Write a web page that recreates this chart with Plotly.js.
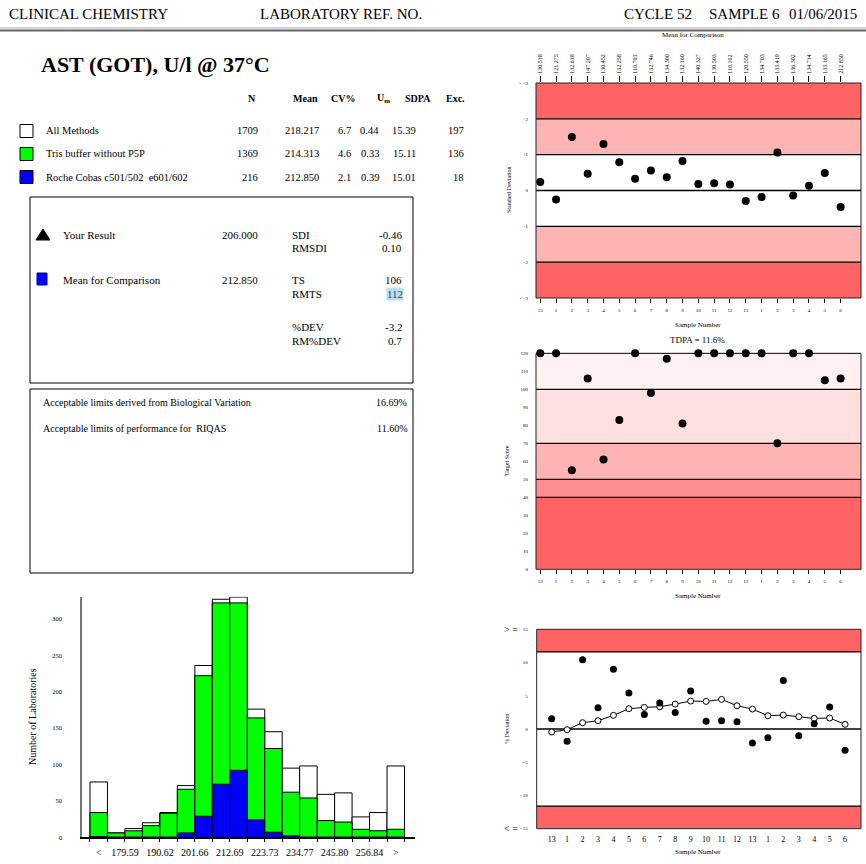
<!DOCTYPE html>
<html><head><meta charset="utf-8">
<script src="https://cdn.plot.ly/plotly-3.0.1.min.js"></script>
<style>html,body{margin:0;padding:0;background:#fff}#chart{width:866px;height:864px}</style>
</head><body><div id="chart"></div>
<script>
// ---------------- data ----------------
const sampleLabels = ["13","1","2","3","4","5","6","7","8","9","10","11","12","13","1","2","3","4","5","6"];
const meanForComparison = ["130.518","121.275","132.618","147.207","130.452","132.258","110.703","132.746","134.300","132.160","140.327","130.503","110.102","120.550","134.703","133.419","136.302","134.714","133.165","212.850"];
const sdiValues = [0.24,-0.25,1.49,0.47,1.30,0.79,0.33,0.56,0.37,0.82,0.18,0.20,0.17,-0.29,-0.18,1.06,-0.14,0.13,0.49,-0.46];
const targetScores = [120,120,55,106,61,83,120,98,117,81,120,120,120,120,120,70,120,120,105,106];
const pctDeviation = [1.55,-1.85,10.4,3.2,9.0,5.4,2.2,3.9,2.5,5.7,1.15,1.25,1.1,-2.1,-1.3,7.3,-1.0,0.8,3.3,-3.2];
const runningMeanPctDev = [-0.45,-0.1,0.95,1.25,2.05,3.05,3.25,3.35,3.75,4.2,4.15,4.45,3.5,3.0,2.0,2.1,1.85,1.6,1.65,0.7];
const sdiTickVals = [-3,-2,-1,0,1,2,3];
const sdiTickText = ["< -3","-2","-1","0","+1","+2","> +3"];
const tsTickVals = [0,10,20,30,40,50,60,70,80,90,100,110,120];
const devTickVals = [-15,-10,-5,0,5,10,15];
const tdpa = 11.6;

const histAll   = [76,6,12,20,34,71,236,327,330,176,145,95,98,59,61,28,34,98];
const histTris  = [34,6,9,16,33,66,222,322,322,164,122,62,54,23,21,11,9,11];
const histRoche = [1,0,0,0,0,6,29,73,92,24,7,2,0,0,0,0,0,0];
const histTickLabels = ["179.59","190.62","201.66","212.69","223.73","234.77","245.80","256.84"];
const histEndLabels = ["<",">"];
const histYTicks = [0,50,100,150,200,250,300];

const tableHeaders = ["N","Mean","CV%","U<sub>m</sub>","SDPA","Exc."];
const methodNames = ["All Methods","Tris buffer without P5P","Roche Cobas c501/502  e601/602"];
const methodColors = ["#ffffff","#00ff00","#0000ff"];
const methodN = ["1709","1369","216"];
const methodMean = ["218.217","214.313","212.850"];
const methodCV = ["6.7","4.6","2.1"];
const methodUm = ["0.44","0.33","0.39"];
const methodSDPA = ["15.39","15.11","15.01"];
const methodExc = ["197","136","18"];

// ---------------- helpers ----------------
const W = 866, H = 864;
const px = x => x / W, py = y => 1 - y / H;
const dx = (a, b) => [a / W, b / W];
const dy = (top, bot) => [1 - bot / H, 1 - top / H];
const SERIF = "Liberation Serif, Times New Roman, serif";
const idx = sampleLabels.map((_, i) => i);
const hIdx = histAll.map((_, i) => i);

const annotations = [];
function txt(text, x, y, opts = {}) {
  annotations.push(Object.assign({
    text, x: px(x), y: py(y), xref: "paper", yref: "paper",
    xanchor: opts.xa || "left", yanchor: "middle", showarrow: false,
    font: { family: SERIF, size: opts.size || 11, color: opts.color || "#000" },
    textangle: opts.angle || 0
  }, opts.extra || {}));
}
const shapes = [];
function rectPx(x0, y0, x1, y1, fill, line) {
  shapes.push({ type: "rect", xref: "paper", yref: "paper", x0: px(x0), x1: px(x1), y0: py(y1), y1: py(y0),
    fillcolor: fill, line: { color: line || "#000", width: 1 } });
}

// ---------------- header & left panel ----------------
txt("CLINICAL CHEMISTRY", 7, 14, { size: 15 });
txt("LABORATORY REF. NO.", 258, 14, { size: 15 });
txt("CYCLE 52", 622, 14, { size: 15 });
txt("SAMPLE 6", 707, 14, { size: 15 });
txt("01/06/2015", 859, 14, { size: 15, xa: "right" });
shapes.push({ type: "line", xref: "paper", yref: "paper", x0: 0, x1: 1, y0: py(28), y1: py(28), line: { color: "#aaa", width: 1 } });
shapes.push({ type: "line", xref: "paper", yref: "paper", x0: 0, x1: 1, y0: py(30.5), y1: py(30.5), line: { color: "#666", width: 2 } });

txt("<b>AST (GOT), U/l @ 37°C</b>", 39, 64, { size: 22 });

const headRight = [258, 320, 357, 392, 433, 467];
tableHeaders.forEach((h, i) => txt("<b>" + h + "</b>", headRight[i], 98, { size: 10, xa: "right" }));
const colRight = [260, 321, 353, 381, 418, 466];
const rowY = [131, 154, 177];
methodNames.forEach((m, r) => {
  rectPx(20, rowY[r] - 6.5, 33, rowY[r] + 6.5, methodColors[r]);
  txt(m, 44, rowY[r], { size: 10.5 });
  [methodN, methodMean, methodCV, methodUm, methodSDPA, methodExc].forEach((col, c) =>
    txt(col[r], colRight[c], rowY[r], { size: 10.5, xa: "right" }));
});

rectPx(30, 197, 413, 383, "rgba(0,0,0,0)");
rectPx(30, 389, 413, 573, "rgba(0,0,0,0)");
shapes.push({ type: "path", xref: "paper", yref: "paper",
  path: `M ${px(36)} ${py(240)} L ${px(50)} ${py(240)} L ${px(43)} ${py(229)} Z`, fillcolor: "#000", line: { color: "#000", width: 1 } });
txt("Your Result", 61, 235);
txt("206.000", 260, 235, { xa: "right" });
txt("SDI", 290, 235); txt("-0.46", 404, 235, { xa: "right" });
txt("RMSDI", 290, 248); txt("0.10", 404, 248, { xa: "right" });
rectPx(37, 273, 47, 285, "#0000ff", "#0000aa");
txt("Mean for Comparison", 61, 280);
txt("212.850", 260, 280, { xa: "right" });
txt("TS", 290, 280); txt("106", 404, 280, { xa: "right" });
txt("RMTS", 290, 294);
txt("112", 404, 294, { xa: "right", color: "#445", extra: { bgcolor: "#b9dff0", borderpad: 0 } });
txt("%DEV", 290, 327); txt("-3.2", 404, 327, { xa: "right" });
txt("RM%DEV", 290, 341); txt("0.7", 404, 341, { xa: "right" });
txt("Acceptable limits derived from Biological Variation", 41, 403, { size: 10 });
txt("16.69%", 409, 403, { size: 10, xa: "right" });
txt("Acceptable limits of performance for  RIQAS", 41, 428, { size: 10 });
txt("11.60%", 409, 428, { size: 10, xa: "right" });

// ---------------- right charts: bands & lines ----------------
function band(xr, yr, y0, y1, color) {
  shapes.push({ type: "rect", xref: xr + " domain", yref: yr, x0: 0, x1: 1, y0, y1, fillcolor: color, line: { width: 0 }, layer: "below" });
}
function hline(xr, yr, y, w) {
  shapes.push({ type: "line", xref: xr + " domain", yref: yr, x0: 0, x1: 1, y0: y, y1: y, line: { color: "#000", width: w || 1.3 }, layer: "below" });
}
function border(xr, yr) {
  shapes.push({ type: "rect", xref: xr + " domain", yref: yr + " domain", x0: 0, x1: 1, y0: 0, y1: 1, line: { color: "#222", width: 1 }, fillcolor: "rgba(0,0,0,0)", layer: "below" });
}
const DARK = "#ff6464", LIGHT = "#ffb4b4";
// chart 1 (SDI)
band("x2", "y2", 2, 3, DARK); band("x2", "y2", 1, 2, LIGHT); band("x2", "y2", -2, -1, LIGHT); band("x2", "y2", -3, -2, DARK);
[2, 1, 0, -1, -2].forEach(v => hline("x2", "y2", v));
border("x2", "y2");
// chart 2 (Target score)
band("x3", "y3", 100, 120, "#fff1f1"); band("x3", "y3", 70, 100, "#ffe0e0"); band("x3", "y3", 50, 70, LIGHT);
band("x3", "y3", 40, 50, "#ff8e8e"); band("x3", "y3", 0, 40, DARK);
[120, 100, 70, 50, 40].forEach(v => hline("x3", "y3", v));
border("x3", "y3");
// chart 3 (% deviation)
band("x4", "y4", tdpa, 15, DARK); band("x4", "y4", -15, -tdpa, DARK);
[tdpa, 0, -tdpa].forEach(v => hline("x4", "y4", v));
border("x4", "y4");

// chart text
txt("Mean for Comparison", 693, 35, { size: 7, xa: "center" });
txt("Standard Deviation", 509, 190, { size: 6, xa: "center", angle: -90 });
txt("Sample Number", 698, 325, { size: 7, xa: "center" });
txt("TDPA = 11.6%", 697, 340, { size: 9, xa: "center" });
txt("Target Score", 507, 461, { size: 6, xa: "center", angle: -90 });
txt("Sample Number", 698, 596, { size: 7, xa: "center" });
txt("% Deviation", 507, 729, { size: 6, xa: "center", angle: -90 });
txt("Sample Number", 698, 852, { size: 7, xa: "center" });
txt("&gt; =", 511, 629, { size: 10, xa: "center" });
txt("&lt; =", 511, 828, { size: 10, xa: "center" });
txt("Number of Laboratories", 32, 717, { size: 10, xa: "center", angle: -90 });

// ---------------- traces ----------------
const dot = (size) => ({ color: "#000", size, line: { width: 0 } });
const histLabelPos = [0].concat(histTickLabels.map((_, i) => 2 * i + 1.5), [hIdx.length - 1]);
const histLabelText = [histEndLabels[0]].concat(histTickLabels, [histEndLabels[1]]);
const histBoundaries = hIdx.map(i => i - 0.5).concat([hIdx.length - 0.5]);
const traces = [
  // histogram (overlaid bars)
  { type: "bar", x: hIdx, y: histAll, width: 1, marker: { color: "#ffffff", line: { color: "#000", width: 1 } }, xaxis: "x", yaxis: "y", hoverinfo: "skip" },
  { type: "bar", x: hIdx, y: histTris, width: 1, marker: { color: "#00ff00", line: { color: "#000", width: 1 } }, xaxis: "x", yaxis: "y", hoverinfo: "skip" },
  { type: "bar", x: hIdx, y: histRoche, width: 1, marker: { color: "#0000ff", line: { color: "#000", width: 1 } }, xaxis: "x", yaxis: "y", hoverinfo: "skip" },
  { type: "scatter", mode: "markers", x: [0, hIdx.length - 1], y: [0, 0], marker: { opacity: 0 }, xaxis: "x5", yaxis: "y", hoverinfo: "skip" },
  // SDI chart
  { type: "scatter", mode: "markers", x: idx, y: sdiValues, marker: dot(8), xaxis: "x2", yaxis: "y2", cliponaxis: false },
  { type: "scatter", mode: "markers", x: idx, y: idx.map(() => 0), marker: { opacity: 0 }, xaxis: "x6", yaxis: "y2", hoverinfo: "skip" },
  // Target score chart
  { type: "scatter", mode: "markers", x: idx, y: targetScores, marker: dot(8), xaxis: "x3", yaxis: "y3", cliponaxis: false },
  // % deviation chart
  { type: "scatter", mode: "lines+markers", x: idx, y: runningMeanPctDev, line: { color: "#000", width: 1 },
    marker: { color: "#fff", size: 6, line: { color: "#000", width: 1 } }, xaxis: "x4", yaxis: "y4" },
  { type: "scatter", mode: "markers", x: idx, y: pctDeviation, marker: dot(7), xaxis: "x4", yaxis: "y4" }
];

// ---------------- axes ----------------
const base = { showgrid: false, zeroline: false, fixedrange: true, tickfont: { family: SERIF, size: 5, color: "#000" } };
const xr12 = [-0.27, 20.29];
const hxr = [-0.94, 18.1];

const layout = {
  width: W, height: H, margin: { l: 0, r: 0, t: 0, b: 0 }, paper_bgcolor: "#fff", plot_bgcolor: "rgba(0,0,0,0)",
  showlegend: false, barmode: "overlay", bargap: 0,
  font: { family: SERIF, color: "#000" },
  xaxis: Object.assign({}, base, { domain: dx(82.3, 415), range: hxr, anchor: "y",
    showline: true, linecolor: "#000", linewidth: 1.3, tickmode: "array", tickvals: histBoundaries,
    showticklabels: false, ticks: "outside", ticklen: 3, tickcolor: "#000" }),
  xaxis5: Object.assign({}, base, { overlaying: "x", anchor: "y", range: hxr, tickmode: "array",
    tickvals: histLabelPos, ticktext: histLabelText, ticks: "", showline: false,
    tickfont: { family: SERIF, size: 10, color: "#000" }, ticklabelstandoff: 8 }),
  yaxis: Object.assign({}, base, { domain: dy(596.7, 837.3), range: [0, 330.5], anchor: "x",
    showline: true, linecolor: "#777", linewidth: 2, tickmode: "array", tickvals: histYTicks, ticks: "",
    tickfont: { family: SERIF, size: 6.5, color: "#000" }, ticklabelstandoff: 17 }),

  xaxis2: Object.assign({}, base, { domain: dx(536, 861), range: xr12, anchor: "y2", tickmode: "array",
    tickvals: idx, ticktext: sampleLabels, ticks: "outside", ticklen: 4, tickcolor: "#000", ticklabelstandoff: 3 }),
  xaxis6: Object.assign({}, base, { overlaying: "x2", anchor: "y2", side: "top", range: xr12, tickmode: "array",
    tickvals: idx, ticktext: meanForComparison, tickangle: -90, ticks: "outside", ticklen: 6, tickcolor: "#000",
    tickfont: { family: SERIF, size: 6, color: "#000" }, ticklabelstandoff: 1 }),
  yaxis2: Object.assign({}, base, { domain: dy(83, 298), range: [-3, 3], anchor: "x2", tickmode: "array",
    tickvals: sdiTickVals, ticktext: sdiTickText, ticks: "", ticklabelstandoff: 7 }),

  xaxis3: Object.assign({}, base, { domain: dx(536, 861), range: xr12, anchor: "y3", tickmode: "array",
    tickvals: idx, ticktext: sampleLabels, ticks: "outside", ticklen: 4, tickcolor: "#000", ticklabelstandoff: 3 }),
  yaxis3: Object.assign({}, base, { domain: dy(353.3, 569.3), range: [0, 120], anchor: "x3", tickmode: "array",
    tickvals: tsTickVals, ticks: "", ticklabelstandoff: 7 }),

  xaxis4: Object.assign({}, base, { domain: dx(536.7, 861), range: [-0.97, 20.03], anchor: "y4", tickmode: "array",
    tickvals: idx, ticktext: sampleLabels, ticks: "", tickfont: { family: SERIF, size: 8, color: "#000" }, ticklabelstandoff: 4 }),
  yaxis4: Object.assign({}, base, { domain: dy(629.3, 828.7), range: [-15, 15], anchor: "x4", tickmode: "array",
    tickvals: devTickVals, ticks: "", ticklabelstandoff: 8 }),

  shapes, annotations
};

Plotly.newPlot("chart", traces, layout, { staticPlot: true, displayModeBar: false });
</script>
</body></html>
